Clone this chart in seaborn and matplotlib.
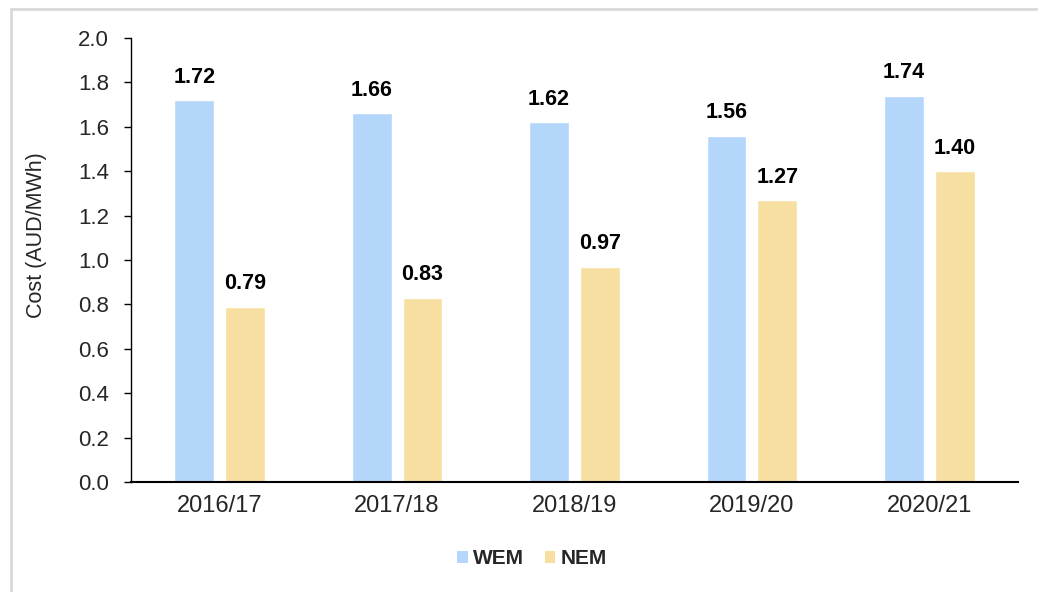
import pandas as pd
import matplotlib
matplotlib.use("Agg")
import matplotlib.pyplot as plt
from matplotlib.lines import Line2D
from matplotlib.patches import Patch
import seaborn as sns

# Data
years = ["2016/17", "2017/18", "2018/19", "2019/20", "2020/21"]
wem = [1.72, 1.66, 1.62, 1.56, 1.74]
nem = [0.79, 0.83, 0.97, 1.27, 1.40]
markets = ["WEM", "NEM"]
colors = ["#B4D6FA", "#F6DFA0"]

df = pd.DataFrame({
    "Year": years * 2,
    "Market": ["WEM"] * len(years) + ["NEM"] * len(years),
    "Cost": wem + nem,
})

sns.set_style("white")
plt.rcParams["font.family"] = ["Liberation Sans", "DejaVu Sans"]

fig = plt.figure(figsize=(10.38, 5.92), dpi=100)
ax = fig.add_axes([131 / 1038, 1 - 482 / 592, (1018 - 131) / 1038, (482 - 38) / 592])

sns.barplot(data=df, x="Year", y="Cost", hue="Market", hue_order=markets,
            palette=colors, width=0.573, gap=0.22, ax=ax, legend=False,
            saturation=1, errorbar=None)

# value labels
for cont in ax.containers:
    ax.bar_label(cont, fmt="%.2f", padding=9, fontsize=15.5, fontweight="bold", color="black")

ax.set_ylim(0, 2.0)
ax.set_yticks([i / 10 for i in range(0, 21, 2)])
ax.set_yticklabels([f"{i / 10:.1f}" for i in range(0, 21, 2)], fontsize=16)
ax.set_xlim(-0.5, 4.5)
ax.tick_params(axis="x", labelsize=17, length=0, pad=9)
ax.tick_params(axis="y", length=5, width=1, color="black", direction="out", left=True, pad=11)
ax.set_xlabel("")
ax.set_ylabel("Cost (AUD/MWh)", fontsize=15.5)
ax.yaxis.set_label_coords((47 - 131) / (1018 - 131), (482 - 235) / 444)

for s in ["top", "right"]:
    ax.spines[s].set_visible(False)
ax.spines["left"].set_color("black")
ax.spines["left"].set_linewidth(1.0)
ax.spines["bottom"].set_color("black")
ax.spines["bottom"].set_linewidth(1.5)

handles = [Patch(facecolor=c, edgecolor="none", label=m) for m, c in zip(markets, colors)]
fig.legend(handles=handles, loc="center", bbox_to_anchor=(532 / 1038, 1 - 559 / 592),
           ncol=2, frameon=False, prop={"weight": "bold", "size": 15},
           handlelength=0.5, handleheight=0.5, handletextpad=0.25, columnspacing=1.0)

# light gray frame around the chart area
frame = dict(color="#D9D9D9", linewidth=2.0, transform=fig.transFigure)
fig.add_artist(Line2D([10.5 / 1038, 1.0], [1 - 9 / 592, 1 - 9 / 592], **frame))
fig.add_artist(Line2D([10.5 / 1038, 10.5 / 1038], [0, 1 - 9 / 592], **frame))

fig.savefig("out.png", dpi=100)
